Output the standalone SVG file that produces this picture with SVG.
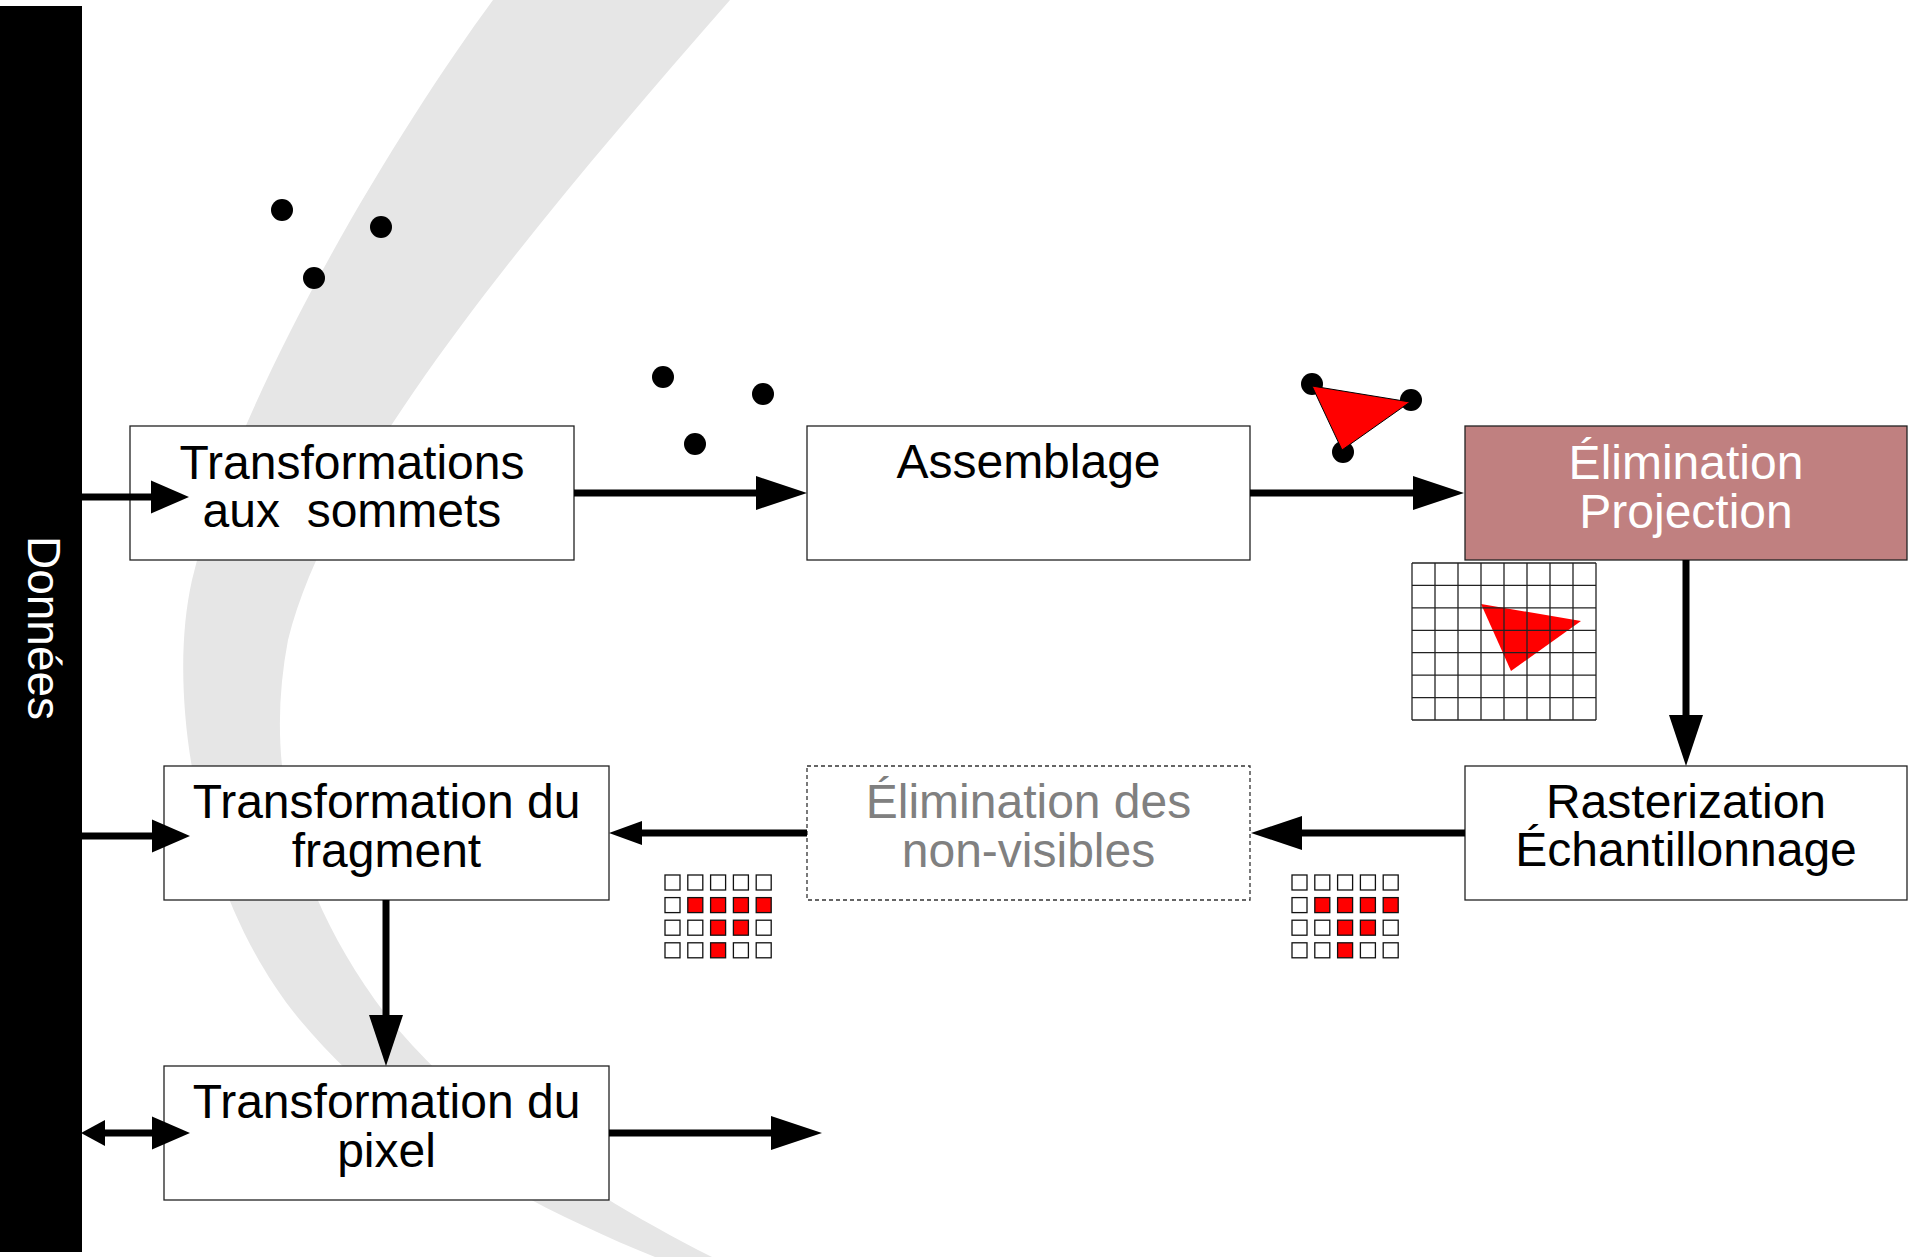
<svg xmlns="http://www.w3.org/2000/svg" width="1909" height="1257" viewBox="0 0 1909 1257">
  <style>
    .box { fill: #ffffff; stroke: #222222; stroke-width: 1.3; }
    .hot { fill: #c08080; stroke: #222222; stroke-width: 1.3; }
    .ghost { fill: #ffffff; stroke: #333333; stroke-width: 1.3; stroke-dasharray: 4 3; }
    .lbl { font-family: "Liberation Sans", Arial, sans-serif; font-size: 48px; text-anchor: middle; fill: #000000; }
    .lbl.white { fill: #ffffff; }
    .lbl.grey { fill: #808080; }
    .wire { fill: none; stroke: #000000; stroke-width: 7; }
    .dot { fill: #000000; }
    .px { fill: #ffffff; stroke: #111111; stroke-width: 1.3; }
    .px.on { fill: #ff0000; }
    .grid line { stroke: #222222; stroke-width: 1.3; }
  </style>
  <defs>
    <!-- arrowheads: base sits at the end of the wire, tip points forward -->
    <marker id="head" markerUnits="userSpaceOnUse" markerWidth="52" markerHeight="34" refX="0" refY="17" orient="auto" overflow="visible">
      <path d="M0,0 L51,17 L0,34 Z" fill="#000000"/>
    </marker>
    <marker id="headShort" markerUnits="userSpaceOnUse" markerWidth="39" markerHeight="33" refX="0" refY="16.5" orient="auto" overflow="visible">
      <path d="M0,0 L38,16.5 L0,33 Z" fill="#000000"/>
    </marker>
    <marker id="headSmall" markerUnits="userSpaceOnUse" markerWidth="34" markerHeight="24" refX="0" refY="12" orient="auto" overflow="visible">
      <path d="M0,0 L33,12 L0,24 Z" fill="#000000"/>
    </marker>
    <marker id="headTiny" markerUnits="userSpaceOnUse" markerWidth="25" markerHeight="26" refX="0" refY="13" orient="auto-start-reverse" overflow="visible">
      <path d="M0,0 L24,13 L0,26 Z" fill="#000000"/>
    </marker>
    <g id="pixels">
      <rect class="px" x="0" y="0" width="15" height="15"/>
      <rect class="px" x="22.8" y="0" width="15" height="15"/>
      <rect class="px" x="45.6" y="0" width="15" height="15"/>
      <rect class="px" x="68.4" y="0" width="15" height="15"/>
      <rect class="px" x="91.2" y="0" width="15" height="15"/>
      <rect class="px" x="0" y="22.6" width="15" height="15"/>
      <rect class="px on" x="22.8" y="22.6" width="15" height="15"/>
      <rect class="px on" x="45.6" y="22.6" width="15" height="15"/>
      <rect class="px on" x="68.4" y="22.6" width="15" height="15"/>
      <rect class="px on" x="91.2" y="22.6" width="15" height="15"/>
      <rect class="px" x="0" y="45.2" width="15" height="15"/>
      <rect class="px" x="22.8" y="45.2" width="15" height="15"/>
      <rect class="px on" x="45.6" y="45.2" width="15" height="15"/>
      <rect class="px on" x="68.4" y="45.2" width="15" height="15"/>
      <rect class="px" x="91.2" y="45.2" width="15" height="15"/>
      <rect class="px" x="0" y="67.8" width="15" height="15"/>
      <rect class="px" x="22.8" y="67.8" width="15" height="15"/>
      <rect class="px on" x="45.6" y="67.8" width="15" height="15"/>
      <rect class="px" x="68.4" y="67.8" width="15" height="15"/>
      <rect class="px" x="91.2" y="67.8" width="15" height="15"/>
    </g>
  </defs>

  <rect x="0" y="0" width="1909" height="1257" fill="#ffffff"/>

  <!-- background swoosh -->
  <path id="swoosh" fill="#e6e6e6"
        d="M493,0 C390,140 235,400 192,580 C165,700 200,900 300,1020 C400,1140 540,1210 655,1257
           L712,1257 C560,1180 440,1090 375,1000 C290,880 265,760 288,640 C330,470 520,240 730,0 Z"/>

  <!-- data column -->
  <g id="donnees">
    <rect x="0" y="6" width="82" height="1246" fill="#000000"/>
    <text class="lbl white" transform="translate(28,628) rotate(90)" x="0" y="0" style="font-size:46px">Données</text>
  </g>

  <!-- vertex / primitive sketches -->
  <g id="vertices-in">
    <circle class="dot" cx="282" cy="210" r="11"/>
    <circle class="dot" cx="381" cy="227" r="11"/>
    <circle class="dot" cx="314" cy="278" r="11"/>
  </g>
  <g id="vertices-out">
    <circle class="dot" cx="663" cy="377" r="11"/>
    <circle class="dot" cx="763" cy="394" r="11"/>
    <circle class="dot" cx="695" cy="444" r="11"/>
  </g>
  <g id="primitive">
    <circle class="dot" cx="1312" cy="384" r="11"/>
    <circle class="dot" cx="1411" cy="400" r="11"/>
    <circle class="dot" cx="1343" cy="452" r="11"/>
    <polygon points="1312,386 1410,402 1342,450" fill="#ff0000" stroke="#000000" stroke-width="1"/>
  </g>
  <g id="raster-grid" class="grid">
    <rect x="1412" y="563" width="184" height="157" fill="#ffffff"/>
    <polygon points="1481,604 1581,621 1511,671" fill="#ff0000"/>
    <line x1="1412" y1="563" x2="1412" y2="720"/>
    <line x1="1435" y1="563" x2="1435" y2="720"/>
    <line x1="1458" y1="563" x2="1458" y2="720"/>
    <line x1="1481" y1="563" x2="1481" y2="720"/>
    <line x1="1504" y1="563" x2="1504" y2="720"/>
    <line x1="1527" y1="563" x2="1527" y2="720"/>
    <line x1="1550" y1="563" x2="1550" y2="720"/>
    <line x1="1573" y1="563" x2="1573" y2="720"/>
    <line x1="1596" y1="563" x2="1596" y2="720"/>
    <line x1="1412" y1="563" x2="1596" y2="563"/>
    <line x1="1412" y1="585.4" x2="1596" y2="585.4"/>
    <line x1="1412" y1="607.9" x2="1596" y2="607.9"/>
    <line x1="1412" y1="630.3" x2="1596" y2="630.3"/>
    <line x1="1412" y1="652.7" x2="1596" y2="652.7"/>
    <line x1="1412" y1="675.1" x2="1596" y2="675.1"/>
    <line x1="1412" y1="697.6" x2="1596" y2="697.6"/>
    <line x1="1412" y1="720" x2="1596" y2="720"/>
  </g>
  <use id="fragments-visible" href="#pixels" x="665" y="875"/>
  <use id="fragments-raster" href="#pixels" x="1292" y="875"/>

  <!-- pipeline stages -->
  <g id="n-vertex">
    <rect class="box" x="130" y="426" width="444" height="134"/>
    <text class="lbl" x="352" y="479">Transformations</text>
    <text class="lbl" x="352" y="527" xml:space="preserve">aux  sommets</text>
  </g>
  <g id="n-assembly">
    <rect class="box" x="807" y="426" width="443" height="134"/>
    <text class="lbl" x="1028.5" y="478">Assemblage</text>
  </g>
  <g id="n-culling">
    <rect class="hot" x="1465" y="426" width="442" height="134"/>
    <text class="lbl white" x="1686" y="479">Élimination</text>
    <text class="lbl white" x="1686" y="528">Projection</text>
  </g>
  <g id="n-raster">
    <rect class="box" x="1465" y="766" width="442" height="134"/>
    <text class="lbl" x="1686" y="818">Rasterization</text>
    <text class="lbl" x="1686" y="866">Échantillonnage</text>
  </g>
  <g id="n-hidden">
    <rect class="ghost" x="807" y="766" width="443" height="134"/>
    <text class="lbl grey" x="1028.5" y="818">Élimination des</text>
    <text class="lbl grey" x="1028.5" y="867">non-visibles</text>
  </g>
  <g id="n-fragment">
    <rect class="box" x="164" y="766" width="445" height="134"/>
    <text class="lbl" x="386.5" y="818">Transformation du</text>
    <text class="lbl" x="386.5" y="867">fragment</text>
  </g>
  <g id="n-pixel">
    <rect class="box" x="164" y="1066" width="445" height="134"/>
    <text class="lbl" x="386.5" y="1118">Transformation du</text>
    <text class="lbl" x="386.5" y="1167">pixel</text>
  </g>

  <!-- connectors -->
  <g id="connectors" class="wire">
    <path d="M82,497 H151" marker-end="url(#headShort)"/>
    <path d="M574,493 H756" marker-end="url(#head)"/>
    <path d="M1250,493 H1413" marker-end="url(#head)"/>
    <path d="M1686,560 V715" marker-end="url(#head)"/>
    <path d="M1465,833 H1302" marker-end="url(#head)"/>
    <path d="M807,833 H642" marker-end="url(#headSmall)"/>
    <path d="M386,900 V1015" marker-end="url(#head)"/>
    <path d="M82,836 H152" marker-end="url(#headShort)"/>
    <path d="M105,1133 H152" marker-start="url(#headTiny)" marker-end="url(#headShort)"/>
    <path d="M609,1133 H771" marker-end="url(#head)"/>
  </g>
</svg>
